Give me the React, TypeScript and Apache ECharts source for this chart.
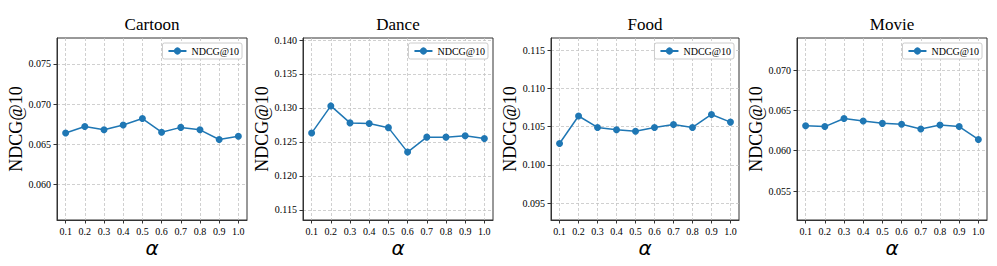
import React, { useEffect, useRef } from "react";
import * as echarts from "echarts";

const alphas = [0.1, 0.2, 0.3, 0.4, 0.5, 0.6, 0.7, 0.8, 0.9, 1.0];
const titles = ["Cartoon", "Dance", "Food", "Movie"];
const seriesName = "NDCG@10";
const yAxisTitle = "NDCG@10";
const xAxisTitle = "α";

const cartoon = [0.0664, 0.0672, 0.0668, 0.0674, 0.0682, 0.0665, 0.0671, 0.0668, 0.0656, 0.0660];
const dance = [0.1263, 0.1303, 0.1278, 0.1277, 0.1271, 0.1235, 0.1257, 0.1257, 0.1259, 0.1255];
const food = [0.1028, 0.1064, 0.1049, 0.1046, 0.1044, 0.1049, 0.1053, 0.1049, 0.1066, 0.1056];
const movie = [0.0631, 0.0630, 0.0640, 0.0637, 0.0634, 0.0633, 0.0627, 0.0632, 0.0630, 0.0614];

const yTicksCartoon = [0.06, 0.065, 0.07, 0.075];
const yTicksDance = [0.115, 0.12, 0.125, 0.13, 0.135, 0.14];
const yTicksFood = [0.095, 0.1, 0.105, 0.11, 0.115];
const yTicksMovie = [0.055, 0.06, 0.065, 0.07];

const allData = [cartoon, dance, food, movie];
const allTicks = [yTicksCartoon, yTicksDance, yTicksFood, yTicksMovie];

const SERIF = "Liberation Serif";
const BLUE = "#1f77b4";

const gridBoxes = [
  { left: 57, top: 38, width: 190, height: 182 },
  { left: 303, top: 38, width: 190, height: 182 },
  { left: 551, top: 38, width: 188, height: 182 },
  { left: 797, top: 38, width: 190, height: 182 },
];

export default function App() {
  const ref = useRef<HTMLDivElement>(null);
  useEffect(() => {
    if (!ref.current) return;
    const chart = echarts.init(ref.current, undefined, { renderer: "svg" });
    const xMargin = (alphas[alphas.length - 1] - alphas[0]) * 0.05;
    const grid = gridBoxes.map((g) => ({
      ...g,
      show: true,
      borderColor: "#333",
      borderWidth: 1,
      backgroundColor: "transparent",
      containLabel: false,
    }));
    const title = gridBoxes.map((g, i) => ({
      text: titles[i],
      left: g.left + g.width / 2,
      top: 16,
      textAlign: "center",
      padding: 0,
      textStyle: { fontFamily: SERIF, fontSize: 17, fontWeight: "normal", color: "#000" },
    }));
    const xAxis = gridBoxes.map((g, i) => ({
      type: "value",
      gridIndex: i,
      min: alphas[0] - xMargin,
      max: alphas[alphas.length - 1] + xMargin,
      name: xAxisTitle,
      nameLocation: "middle",
      nameGap: 18,
      nameMoveOverlap: false,
      nameTextStyle: { fontFamily: "DejaVu Sans", fontStyle: "italic", fontSize: 20, color: "#000" },
      axisLine: { show: true, onZero: false, lineStyle: { color: "#333", width: 1 } },
      axisTick: { show: true, length: 3.5, customValues: alphas, lineStyle: { color: "#333", width: 1 } },
      axisLabel: {
        customValues: alphas,
        formatter: (v: number) => v.toFixed(1),
        fontFamily: SERIF,
        fontSize: 10,
        color: "#000",
        margin: 6,
      },
      splitLine: { show: true, lineStyle: { color: "#c4c4c4", type: [3, 2], width: 0.8 } },
    }));
    const yAxis = gridBoxes.map((g, i) => ({
      type: "value",
      gridIndex: i,
      min: Math.min(...allData[i]) - 0.01,
      max: Math.max(...allData[i]) + 0.01,
      name: yAxisTitle,
      nameLocation: "middle",
      nameGap: 32,
      nameTextStyle: { fontFamily: SERIF, fontSize: 18, color: "#000" },
      axisLine: { show: true, onZero: false, lineStyle: { color: "#333", width: 1 } },
      axisTick: { show: true, length: 3.5, customValues: allTicks[i], lineStyle: { color: "#333", width: 1 } },
      axisLabel: {
        customValues: allTicks[i],
        formatter: (v: number) => v.toFixed(3),
        fontFamily: SERIF,
        fontSize: 10,
        color: "#000",
        margin: 6,
      },
      splitLine: { show: true, lineStyle: { color: "#c4c4c4", type: [3, 2], width: 0.8 } },
    }));
    const legend = gridBoxes.map((g) => ({
      data: [seriesName],
      right: 997 - (g.left + g.width - 5),
      top: 43,
      orient: "horizontal",
      backgroundColor: "#fff",
      borderColor: "#ccc",
      borderWidth: 1,
      borderRadius: 2,
      padding: [3, 3, 3, 5],
      itemWidth: 18,
      itemHeight: 9,
      textStyle: { fontFamily: SERIF, fontSize: 10, color: "#000" },
    }));
    const series = allData.map((d, i) => ({
      type: "line",
      name: seriesName,
      xAxisIndex: i,
      yAxisIndex: i,
      data: alphas.map((a, j) => [a, d[j]]),
      symbol: "circle",
      symbolSize: 7,
      color: BLUE,
      itemStyle: { color: BLUE },
      lineStyle: { color: BLUE, width: 1.5 },
      z: 3,
    }));
    chart.setOption({
      animation: false,
      backgroundColor: "#fff",
      title,
      grid,
      xAxis,
      yAxis,
      legend,
      series,
    });
    return () => chart.dispose();
  }, []);
  return (
    <div
      ref={ref}
      style={{ position: "fixed", left: 0, top: 0, width: 997, height: 266 }}
    />
  );
}
